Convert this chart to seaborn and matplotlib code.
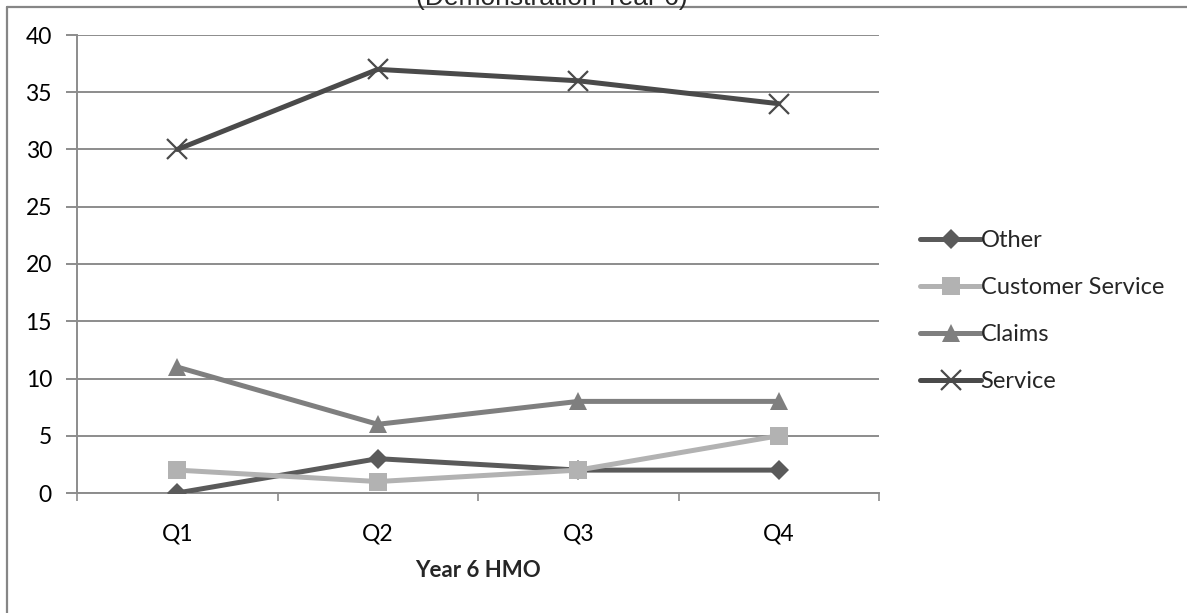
import matplotlib
matplotlib.use("Agg")
import matplotlib.pyplot as plt
from matplotlib.lines import Line2D
import pandas as pd
import seaborn as sns

quarters = ["Q1", "Q2", "Q3", "Q4"]
other = [0, 3, 2, 2]
customer_service = [2, 1, 2, 5]
claims = [11, 6, 8, 8]
service = [30, 37, 36, 34]

series_names = ["Other", "Customer Service", "Claims", "Service"]
series_values = [other, customer_service, claims, service]

df = pd.DataFrame(
    [(name, q, v) for name, vals in zip(series_names, series_values)
     for q, v in zip(quarters, vals)],
    columns=["Category", "Quarter", "Count"],
)
df["x"] = df["Quarter"].map({q: i for i, q in enumerate(quarters)})

sns.set_theme(style="white")
plt.rcParams["font.family"] = ["Lato", "DejaVu Sans"]

W, H = 1187, 613
fig = plt.figure(figsize=(W / 100, H / 100), dpi=100)
ax = fig.add_axes([77 / W, 1 - 493 / H, (879 - 77) / W, (493 - 35) / H])

palette = {
    "Other": "#5a5a5a",
    "Customer Service": "#b2b2b2",
    "Claims": "#7f7f7f",
    "Service": "#4a4a4a",
}
markers = {"Other": "D", "Customer Service": "s", "Claims": "^", "Service": "x"}
msizes = {"Other": 10, "Customer Service": 13, "Claims": 13, "Service": 14}

for name in series_names:
    sub = df[df["Category"] == name]
    sns.lineplot(
        data=sub, x="x", y="Count", ax=ax, color=palette[name], lw=3.6,
        marker=markers[name], markersize=msizes[name],
        markeredgewidth=1.6 if name == "Service" else 0,
        markeredgecolor=palette[name], label=name, zorder=3,
    )

ax.set_xlim(-0.5, 3.5)
ax.set_ylim(0, 40)
ax.set_yticks(range(0, 41, 5))
ax.set_xticks(range(len(quarters)))
ax.set_xticklabels(quarters)
ax.set_xticks([-0.5, 0.5, 1.5, 2.5, 3.5], minor=True)

ax.grid(axis="y", color="#8c8c8c", lw=1.4, zorder=0)
ax.set_axisbelow(True)
for s in ["top", "right"]:
    ax.spines[s].set_visible(False)
ax.spines["left"].set_color("#8c8c8c")
ax.spines["left"].set_linewidth(1.4)
ax.spines["bottom"].set_color("#8c8c8c")
ax.spines["bottom"].set_linewidth(1.4)

ax.tick_params(axis="y", which="major", left=True, length=8, width=1.4,
               color="#8c8c8c", labelsize=16.5, pad=10, labelcolor="black")
ax.tick_params(axis="x", which="major", bottom=False, labelsize=16.5, pad=16,
               labelcolor="black")
ax.tick_params(axis="x", which="minor", bottom=True, length=6, width=1.2,
               color="#8c8c8c", direction="out")

ax.set_xlabel("Year 6 HMO", fontsize=16, fontweight="bold", labelpad=11)
ax.set_ylabel("")

ax.legend(loc="center left", bbox_to_anchor=(1.037, 0.397), frameon=False,
          fontsize=17, handlelength=2.55, handletextpad=0.0,
          labelspacing=1.1, borderpad=0)

# Chart frame (top and left edges)
fig.add_artist(Line2D([6.5 / W, 1.0], [1 - 6.5 / H, 1 - 6.5 / H],
                      transform=fig.transFigure, color="#868686", lw=1.6))
fig.add_artist(Line2D([6.5 / W, 6.5 / W], [0, 1 - 6.5 / H],
                      transform=fig.transFigure, color="#868686", lw=1.6))

# Title, mostly above the visible area
fig.text(552 / W, 1 - 5 / H, "(Demonstration Year 6)", ha="center",
         va="baseline", fontsize=19, family=["Liberation Sans", "DejaVu Sans"])

fig.savefig("out.png", dpi=100, facecolor="white")
